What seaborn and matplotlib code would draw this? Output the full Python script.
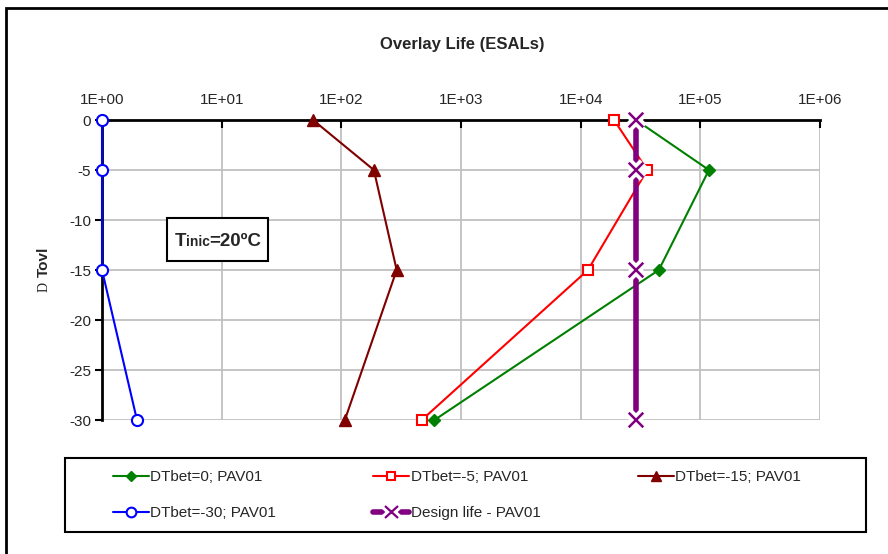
import numpy as np
import pandas as pd
import matplotlib
matplotlib.use("Agg")
import matplotlib.pyplot as plt
import matplotlib.patheffects as pe
from matplotlib.lines import Line2D
from matplotlib.patches import Rectangle
from matplotlib.offsetbox import TextArea, HPacker, AnchoredOffsetbox
import seaborn as sns

# ---- data ----
dt_ovl = [0, -5, -15, -30]
life_dt0 = [2.9e4, 1.18e5, 4.5e4, 6.0e2]
life_dt5 = [1.9e4, 3.6e4, 1.15e4, 4.7e2]
life_dt15 = [58, 187, 290, 107]
life_dt30 = [1.0, 1.0, 1.0, 1.96]
design_life = [2.9e4, 2.9e4, 2.9e4, 2.9e4]
series_names = ["DTbet=0; PAV01", "DTbet=-5; PAV01", "DTbet=-15; PAV01",
                "DTbet=-30; PAV01", "Design life - PAV01"]
x_ticks = [1e0, 1e1, 1e2, 1e3, 1e4, 1e5, 1e6]
x_tick_labels = ["1E+00", "1E+01", "1E+02", "1E+03", "1E+04", "1E+05", "1E+06"]
y_ticks = [0, -5, -10, -15, -20, -25, -30]

sns.set_theme(style="white")
plt.rcParams["font.family"] = ["Liberation Sans", "DejaVu Sans"]

W, H = 888, 554
fig = plt.figure(figsize=(W/100, H/100), dpi=100)
ax = fig.add_axes([102/W, 1-420/H, (820-102)/W, 300/H])

# outer chart border
fig.add_artist(Rectangle((6/W, -0.05), 1.1, 1-8/H+0.05, transform=fig.transFigure,
                         fill=False, edgecolor="black", linewidth=2.0))

styles = [
    dict(color="#008000", marker="D", markersize=6, markerfacecolor="#008000", markeredgecolor="#008000"),
    dict(color="#FF0000", marker="s", markersize=7, markerfacecolor="white", markeredgecolor="#FF0000", markeredgewidth=1.5),
    dict(color="#800000", marker="^", markersize=8, markerfacecolor="#800000", markeredgecolor="#800000"),
    dict(color="#0000FF", marker="o", markersize=8, markerfacecolor="white", markeredgecolor="#0000FF", markeredgewidth=1.5),
]

df = pd.DataFrame({"y": dt_ovl * 5,
                   "life": life_dt0 + life_dt5 + life_dt15 + life_dt30 + design_life,
                   "series": np.repeat(series_names, 4)})

handles = []
for name, st in zip(series_names[:4], styles):
    sub = df[df["series"] == name]
    sns.lineplot(data=sub, x="life", y="y", sort=False, estimator=None, ax=ax,
                 color=st["color"], linewidth=1.5, marker=st["marker"],
                 markersize=st["markersize"], markerfacecolor=st["markerfacecolor"],
                 markeredgecolor=st["markeredgecolor"],
                 markeredgewidth=st.get("markeredgewidth", 1.0), clip_on=False, zorder=3)
    handles.append(Line2D([], [], color=st["color"], linewidth=1.5, marker=st["marker"],
                          markersize=st["markersize"] - 1, markerfacecolor=st["markerfacecolor"],
                          markeredgecolor=st["markeredgecolor"],
                          markeredgewidth=st.get("markeredgewidth", 1.0)))

sub = df[df["series"] == series_names[4]]
sns.lineplot(data=sub, x="life", y="y", sort=False, estimator=None, ax=ax,
             color="#800080", linewidth=4, clip_on=False, zorder=4)
sns.scatterplot(data=sub, x="life", y="y", ax=ax, marker="x", s=110, color="#800080",
                linewidth=1.8, clip_on=False, zorder=5,
                path_effects=[pe.withStroke(linewidth=7, foreground="white")])
h_line = Line2D([], [], color="#800080", linewidth=4)
h_mark = Line2D([], [], color="#800080", linestyle="none", marker="x", markersize=9,
                markeredgewidth=1.6,
                path_effects=[pe.withStroke(linewidth=6, foreground="white")])
handles.append((h_line, h_mark))

ax.set_xscale("log")
ax.set_xlim(1, 1e6)
ax.set_ylim(-30, 0)
ax.set_xticks(x_ticks)
ax.set_xticklabels(x_tick_labels)
ax.minorticks_off()
ax.xaxis.set_ticks_position("top")
ax.xaxis.set_label_position("top")
ax.set_yticks(y_ticks)
ax.set_yticklabels([str(v) for v in y_ticks])
ax.tick_params(axis="x", direction="in", length=6, width=1.5, color="black",
               labelsize=11, pad=9, top=True, bottom=False)
ax.tick_params(axis="y", direction="out", length=5, width=1.5, color="black",
               labelsize=11, pad=3, left=True)
ax.grid(True, color="#c0c0c0", linewidth=1.3)
ax.set_axisbelow(True)
for s in ["right", "bottom"]:
    ax.spines[s].set_visible(False)
for s in ["left", "top"]:
    ax.spines[s].set_color("black")
    ax.spines[s].set_linewidth(2)
    ax.spines[s].set_zorder(2)
ax.set_xlabel("")
ax.set_ylabel("")

fig.text(462/W, 1-44/H, "Overlay Life (ESALs)", ha="center", va="center",
         fontsize=12, fontweight="bold")
fig.text(44/W, 1-287/H, "D", rotation=90, ha="center", va="center",
         fontsize=10, family=["Liberation Serif", "DejaVu Serif"])
fig.text(44/W, 1-262/H, "Tovl", rotation=90, ha="center", va="center",
         fontsize=11, fontweight="bold")

# annotation box
fig.add_artist(Rectangle((167/W, 1-261/H), 101/W, 43/H, transform=fig.transFigure,
                         fill=True, facecolor="white", edgecolor="black", linewidth=1.5, zorder=6))
t1 = TextArea("T", textprops=dict(fontsize=13.5, fontweight="bold"))
t2 = TextArea("inic", textprops=dict(fontsize=10, fontweight="bold"))
t3 = TextArea("=20ºC", textprops=dict(fontsize=13.5, fontweight="bold"))
pack = HPacker(children=[t1, t2, t3], align="baseline", pad=0, sep=0)
box = AnchoredOffsetbox(loc="center", child=pack, pad=0, frameon=False,
                        bbox_to_anchor=(218/W, 1-241/H), bbox_transform=fig.transFigure,
                        borderpad=0)
box.set_zorder(7)
fig.add_artist(box)

# legend frame + legend
fig.add_artist(Rectangle((65/W, 1-532/H), 801/W, 74/H, transform=fig.transFigure,
                         fill=False, edgecolor="black", linewidth=1.5))
order = [0, 3, 1, 4, 2]
leg = fig.legend([handles[i] for i in order], [series_names[i] for i in order],
                 loc="upper left", bbox_to_anchor=(113/W, 1-470/H),
                 ncol=3, fontsize=11, frameon=False,
                 handlelength=2.35, handletextpad=0.1, borderaxespad=0,
                 borderpad=0, labelspacing=1.45, columnspacing=6.35)

fig.savefig("out.png", dpi=100)
